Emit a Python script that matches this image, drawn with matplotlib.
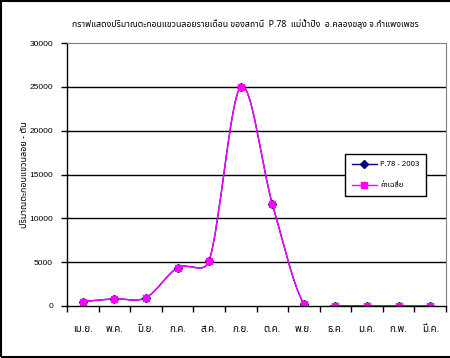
import matplotlib
matplotlib.use('Agg')
import matplotlib.pyplot as plt
import numpy as np
from matplotlib.path import Path
from matplotlib.patches import PathPatch, Rectangle
from matplotlib.lines import Line2D

months = ['เม.ย.', 'พ.ค.', 'มิ.ย.', 'ก.ค.', 'ส.ค.', 'ก.ย.',
          'ต.ค.', 'พ.ย.', 'ธ.ค.', 'ม.ค.', 'ก.พ.', 'มี.ค.']
p78_2003 = [490, 830, 950, 4370, 5170, 25000, 11670, 260, 30, 30, 30, 30]
average = [490, 830, 950, 4370, 5170, 25000, 11670, 260, 30, 30, 30, 30]

title = 'กราฟแสดงปริมาณตะกอนแขวนลอยรายเดือน ของสถานี  P.78  แม่น้ำปิง  อ.คลองขลุง จ.กำแพงเพชร'
ylabel = 'ปริมาณตะกอนแขวนลอย - ตัน'
names = ['P.78 - 2003', 'ค่าเฉลี่ย']

FONT = ['Noto Sans Thai', 'Loma', 'DejaVu Sans']
plt.rcParams['font.family'] = FONT

# plot area in pixels (used to smooth the lines the way excel does)
AX_W, AX_H = 379, 263
YMAX = 30000


def smooth_path(xs, ys):
    # bezier segments, control points 1/6 of the chord, capped at half a segment
    sx = AX_W / len(months)
    sy = AX_H / YMAX
    pts = np.column_stack([np.asarray(xs) * sx, np.asarray(ys) * sy])
    n = len(pts)
    verts = [pts[0]]
    codes = [Path.MOVETO]
    for i in range(n - 1):
        p0 = pts[i - 1] if i > 0 else pts[i]
        p1 = pts[i]
        p2 = pts[i + 1]
        p3 = pts[i + 2] if i + 2 < n else pts[i + 1]
        d12 = np.hypot(*(p2 - p1))
        d02 = np.hypot(*(p2 - p0))
        d13 = np.hypot(*(p3 - p1))
        f1 = 1 / 6.0
        f2 = 1 / 6.0
        if d02 * f1 > d12 / 2:
            f1 = d12 / 2 / d02
        if d13 * f2 > d12 / 2:
            f2 = d12 / 2 / d13
        c1 = p1 + (p2 - p0) * f1
        c2 = p2 - (p3 - p1) * f2
        verts += [c1, c2, p2]
        codes += [Path.CURVE4] * 3
    verts = np.array(verts)
    verts[:, 0] /= sx
    verts[:, 1] /= sy
    return Path(verts, codes)


fig = plt.figure(figsize=(4.5, 3.58), dpi=100)
ax = fig.add_axes([67 / 450, 52 / 358, AX_W / 450, AX_H / 358])

x = np.arange(len(months)) + 0.5

for vals, col, mk, ms in [(p78_2003, '#000080', 'D', 4), (average, '#FF00FF', 's', 4.5)]:
    ax.add_patch(PathPatch(smooth_path(x, vals), facecolor='none',
                           edgecolor=col, lw=1))
    ax.plot(x, vals, ls='none', marker=mk, ms=ms, color=col, mec=col)

ax.set_xlim(0, len(months))
ax.set_ylim(0, YMAX)
ax.set_yticks(np.arange(0, YMAX + 1, 5000))
ax.set_yticklabels([str(v) for v in range(0, YMAX + 1, 5000)],
                   family=['Liberation Sans', 'DejaVu Sans'], fontsize=6)
for v in range(5000, YMAX, 5000):
    ax.axhline(v, color='black', lw=1, zorder=0.5)

ax.set_xticks(np.arange(0, len(months) + 1))
ax.set_xticklabels([])
ax.set_xticks(x, minor=True)
ax.set_xticklabels(months, minor=True, fontsize=7)
ax.tick_params(axis='x', which='minor', length=0, pad=14)
ax.tick_params(axis='x', which='major', length=4, width=1, color='black')
ax.tick_params(axis='y', length=4, width=1, pad=6)

for s in ['top', 'right']:
    ax.spines[s].set_color('#808080')
for s in ['left', 'bottom']:
    ax.spines[s].set_color('black')
    ax.spines[s].set_linewidth(1)

ax.set_ylabel(ylabel, fontsize=6.5)
ax.yaxis.set_label_coords(-38 / AX_W, 0.5)
fig.text(245 / 450, 1 - 24 / 358, title, ha='center', va='center', fontsize=6.3)

handles = [Line2D([], [], color='#000080', marker='D', ms=4, lw=1),
           Line2D([], [], color='#FF00FF', marker='s', ms=4.5, lw=1)]
leg = fig.legend(handles, names, loc='upper left',
                 bbox_to_anchor=(345 / 450, 1 - 154 / 358),
                 bbox_transform=fig.transFigure, fontsize=5.5,
                 frameon=True, fancybox=False, framealpha=1,
                 edgecolor='black', handlelength=3.3, borderaxespad=0,
                 borderpad=0.9, labelspacing=1.8, handletextpad=0.4)
leg.get_frame().set_linewidth(1)

fig.patches.append(Rectangle((0.002, 0.003), 1.1, 0.994, transform=fig.transFigure,
                             fill=False, edgecolor='black', lw=1.5))

fig.savefig('out.png', dpi=100)
